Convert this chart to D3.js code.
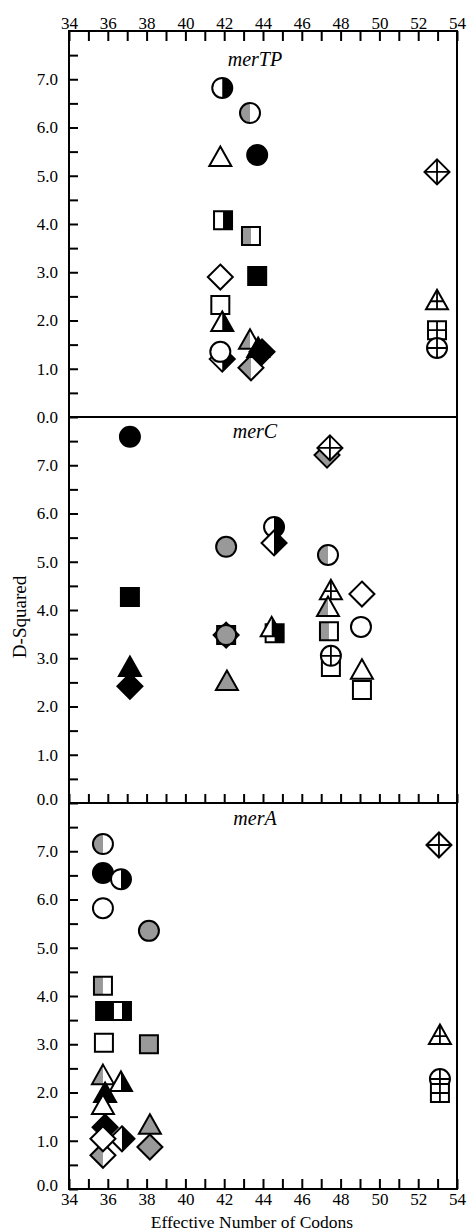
<!DOCTYPE html>
<html>
<head>
<meta charset="utf-8">
<script src="https://cdn.jsdelivr.net/npm/d3@7"></script>
<style>
body { margin: 0; background: #fff; }
text { font-family: "Liberation Serif", "Times New Roman", serif; fill: #000; }
</style>
</head>
<body>
<script>
// chart data: [effective number of codons, D-squared, shape, fill style]
var panelNames = ["merTP", "merC", "merA"];
var xTicks = d3.range(34, 55, 1);
var yTicks = d3.range(0, 8, 0.5);

var merTPPoints = [
    [41.9, 6.82, "circle", "halfBlackR"],
    [43.33, 6.30, "circle", "halfGrayL"],
    [41.8, 5.39, "triangle", "open"],
    [43.7, 5.43, "circle", "black"],
    [52.97, 5.08, "diamond", "cross"],
    [41.94, 4.08, "square", "halfBlackR"],
    [43.38, 3.75, "square", "halfGrayL"],
    [41.8, 2.90, "diamond", "open"],
    [43.7, 2.92, "square", "black"],
    [41.8, 2.32, "square", "open"],
    [41.9, 1.97, "triangle", "halfBlackR"],
    [41.9, 1.20, "diamond", "halfBlackR"],
    [41.8, 1.35, "circle", "open"],
    [43.38, 1.02, "diamond", "halfGrayL"],
    [43.33, 1.60, "triangle", "halfGrayL"],
    [43.75, 1.43, "triangle", "black"],
    [43.95, 1.35, "diamond", "black"],
    [52.97, 2.42, "triangle", "cross"],
    [52.97, 1.80, "square", "cross"],
    [52.97, 1.43, "circle", "cross"]
];

var merCPoints = [
    [37.14, 7.59, "circle", "black"],
    [47.3, 7.21, "diamond", "gray"],
    [47.45, 7.36, "diamond", "cross"],
    [44.57, 5.72, "circle", "halfBlackR"],
    [44.57, 5.39, "diamond", "halfBlackR"],
    [42.1, 5.31, "circle", "gray"],
    [47.35, 5.14, "circle", "halfGrayL"],
    [47.5, 4.41, "triangle", "cross"],
    [47.35, 4.06, "triangle", "halfGrayL"],
    [49.1, 4.33, "diamond", "open"],
    [47.4, 3.56, "square", "halfGrayL"],
    [49.05, 3.65, "circle", "open"],
    [42.1, 3.48, "square", "gray"],
    [42.1, 3.48, "diamond", "gray"],
    [42.1, 3.48, "circle", "gray"],
    [44.6, 3.52, "square", "halfBlackR"],
    [44.45, 3.64, "triangle", "halfBlackR"],
    [37.14, 4.27, "square", "black"],
    [37.14, 2.82, "triangle", "black"],
    [37.14, 2.42, "diamond", "black"],
    [42.14, 2.53, "triangle", "gray"],
    [47.5, 2.82, "square", "open"],
    [47.5, 3.05, "circle", "cross"],
    [49.1, 2.76, "triangle", "open"],
    [49.1, 2.34, "square", "open"]
];

var merAPoints = [
    [35.75, 7.15, "circle", "halfGrayL"],
    [35.75, 6.55, "circle", "black"],
    [36.68, 6.42, "circle", "halfBlackR"],
    [35.75, 5.82, "circle", "open"],
    [38.12, 5.35, "circle", "gray"],
    [35.75, 4.21, "square", "halfGrayL"],
    [35.86, 3.69, "square", "black"],
    [36.73, 3.69, "square", "halfBlackR"],
    [35.8, 3.03, "square", "open"],
    [38.12, 3.00, "square", "gray"],
    [35.75, 2.36, "triangle", "halfGrayL"],
    [35.86, 1.99, "triangle", "black"],
    [35.75, 1.74, "triangle", "open"],
    [36.68, 2.22, "triangle", "halfBlackR"],
    [35.75, 0.70, "diamond", "halfGrayL"],
    [35.86, 1.28, "diamond", "black"],
    [36.73, 1.04, "diamond", "halfBlackR"],
    [35.75, 1.04, "diamond", "open"],
    [38.17, 1.33, "triangle", "gray"],
    [38.17, 0.87, "diamond", "gray"],
    [53.07, 7.13, "diamond", "cross"],
    [53.12, 3.19, "triangle", "cross"],
    [53.12, 2.28, "circle", "cross"],
    [53.12, 1.99, "square", "cross"]
];

var panelPoints = [merTPPoints, merCPoints, merAPoints];

// layout
var width = 467, height = 1231;
var left = 69, right = 457, top0 = 31, panelH = 386;
var GRAY = "#999";

var svg = d3.select("body")
    .append("svg")
    .attr("width", width)
    .attr("height", height);

var x = d3.scaleLinear().domain([34, 54]).range([left, right]);

// marker shapes, centred on 0,0
var shapes = {
    circle: "M10,0A10,10 0 1,1 -10,0A10,10 0 1,1 10,0Z",
    square: "M-9,-9H9V9H-9Z",
    diamond: "M0,-12.5L12.5,0L0,12.5L-12.5,0Z",
    triangle: "M0,-10.5L11,9L-11,9Z"
};

var defs = svg.append("defs");
defs.append("clipPath").attr("id", "clipL")
    .append("rect").attr("x", -20).attr("y", -20).attr("width", 20).attr("height", 40);
defs.append("clipPath").attr("id", "clipR")
    .append("rect").attr("x", 0).attr("y", -20).attr("width", 20).attr("height", 40);
Object.keys(shapes).forEach(function (k) {
    defs.append("clipPath").attr("id", "clip-" + k)
        .append("path").attr("d", shapes[k]);
});

function drawMarker(g, d, y) {
    var m = g.append("g")
        .attr("transform", "translate(" + x(d[0]) + "," + y(d[1]) + ")");
    var p = shapes[d[2]];
    var style = d[3];
    var base = style == "black" ? "#000" : (style == "gray" ? GRAY : "#fff");
    m.append("path").attr("d", p).attr("fill", base);
    if (style == "halfBlackR") {
        m.append("path").attr("d", p).attr("fill", "#000").attr("clip-path", "url(#clipR)");
    }
    if (style == "halfGrayL") {
        m.append("path").attr("d", p).attr("fill", GRAY).attr("clip-path", "url(#clipL)");
    }
    if (style == "cross") {
        m.append("path")
            .attr("d", d[2] == "triangle" ? "M-14,1H14M0,-14V14" : "M-14,0H14M0,-14V14")
            .attr("stroke", "#000")
            .attr("stroke-width", 1.8)
            .attr("fill", "none")
            .attr("clip-path", "url(#clip-" + d[2] + ")");
    }
    m.append("path").attr("d", p)
        .attr("fill", "none")
        .attr("stroke", "#000")
        .attr("stroke-width", 2);
}

panelNames.forEach(function (name, i) {
    var ptop = top0 + i * panelH;
    var y = d3.scaleLinear().domain([0, 8]).range([ptop + panelH, ptop]);
    var g = svg.append("g");

    // left axis, ticks every 0.5 pointing inward
    var yAxis = g.append("g")
        .attr("transform", "translate(" + left + ",0)")
        .call(d3.axisLeft(y)
            .tickValues(yTicks)
            .tickSize(-9)
            .tickPadding(11)
            .tickFormat(function (v) { return v % 1 == 0 ? d3.format(".1f")(v) : ""; }));
    yAxis.select(".domain").remove();
    yAxis.selectAll("line").attr("stroke-width", 2);
    yAxis.selectAll("text")
        .attr("font-size", 17)
        .attr("font-family", "Liberation Serif")
        .attr("dy", function (v) { return v == 0 && i > 0 ? "0.1em" : "0.32em"; });

    // panel title
    g.append("text")
        .attr("x", 255)
        .attr("y", ptop + [35, 21, 22][i])
        .attr("text-anchor", "middle")
        .attr("font-size", 20)
        .attr("font-style", "italic")
        .text(name);

    var marks = g.append("g");
    panelPoints[i].forEach(function (d) { drawMarker(marks, d, y); });
});

// top axis
var topAxis = svg.append("g")
    .attr("transform", "translate(0," + top0 + ")")
    .call(d3.axisTop(x)
        .tickValues(xTicks)
        .tickSize(-10)
        .tickPadding(2)
        .tickFormat(function (v) { return v % 2 == 0 ? v : ""; }));

// ticks along the bottom of merC
var midAxis = svg.append("g")
    .attr("transform", "translate(0," + (top0 + 2 * panelH) + ")")
    .call(d3.axisBottom(x)
        .tickValues(xTicks)
        .tickSize(-9)
        .tickFormat(""));

// bottom axis
var bottomAxis = svg.append("g")
    .attr("transform", "translate(0," + (top0 + 3 * panelH) + ")")
    .call(d3.axisBottom(x)
        .tickValues(xTicks)
        .tickSize(-10)
        .tickPadding(4)
        .tickFormat(function (v) { return v % 2 == 0 ? v : ""; }));

[topAxis, midAxis, bottomAxis].forEach(function (a) {
    a.select(".domain").remove();
    a.selectAll("line").attr("stroke-width", 2);
    a.selectAll("text").attr("font-size", 17).attr("font-family", "Liberation Serif");
});

// frame and panel separators
svg.append("rect")
    .attr("x", left)
    .attr("y", top0)
    .attr("width", right - left)
    .attr("height", 3 * panelH)
    .attr("fill", "none")
    .attr("stroke", "#000")
    .attr("stroke-width", 2);

svg.selectAll(".sep")
    .data([1, 2])
    .enter()
    .append("line")
    .attr("class", "sep")
    .attr("x1", left)
    .attr("x2", right)
    .attr("y1", function (k) { return top0 + k * panelH; })
    .attr("y2", function (k) { return top0 + k * panelH; })
    .attr("stroke", "#000")
    .attr("stroke-width", 2);

// axis titles
svg.append("text")
    .attr("transform", "translate(26,617) rotate(-90)")
    .attr("text-anchor", "middle")
    .attr("font-size", 19)
    .text("D-Squared");

svg.append("text")
    .attr("x", 252)
    .attr("y", 1228)
    .attr("text-anchor", "middle")
    .attr("font-size", 17.5)
    .text("Effective Number of Codons");
</script>
</body>
</html>
